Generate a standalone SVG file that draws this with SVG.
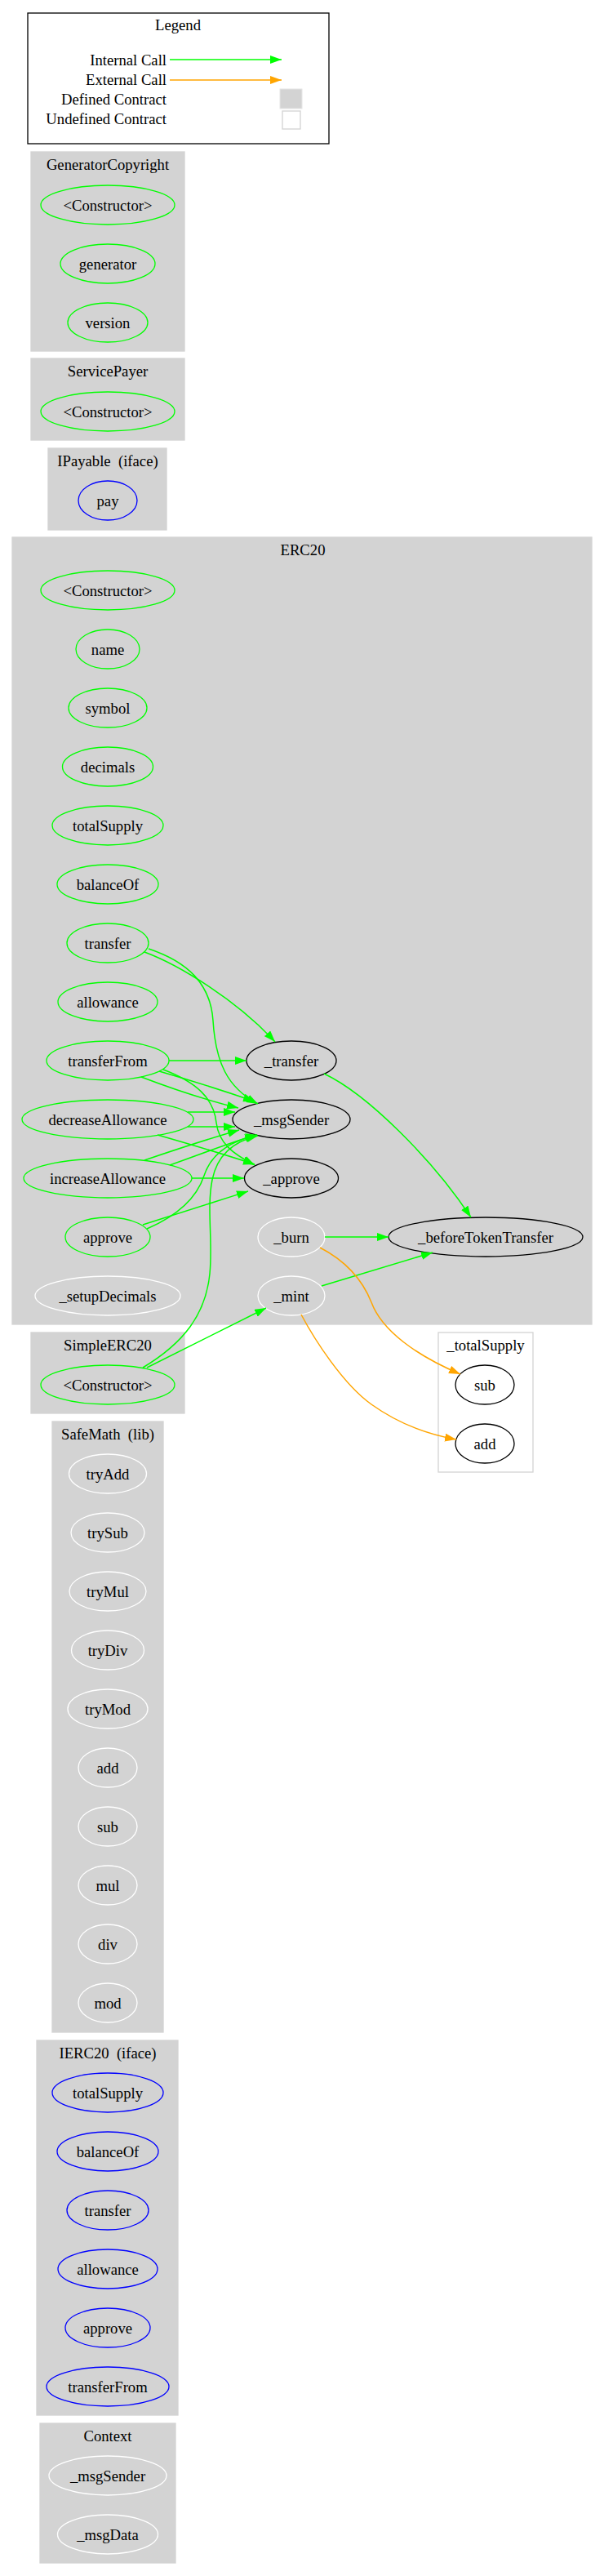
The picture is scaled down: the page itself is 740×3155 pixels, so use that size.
<svg xmlns="http://www.w3.org/2000/svg" width="740" height="3155" viewBox="0 0 740 3155">
<style>
text{font-family:"Liberation Serif","Times New Roman",serif;font-size:18.67px;fill:#000;text-anchor:middle;white-space:pre}
.cl{fill:#d3d3d3;stroke:#d3d3d3;stroke-width:1.3}
.ucl{fill:#fff;stroke:#d3d3d3;stroke-width:1.3}
.g{fill:none;stroke:#00ff00;stroke-width:1.3}
.b{fill:none;stroke:#0000ff;stroke-width:1.3}
.w{fill:none;stroke:#ffffff;stroke-width:1.3}
.k{fill:none;stroke:#000000;stroke-width:1.3}
.eg{fill:none;stroke:#00ff00;stroke-width:1.5}
.eo{fill:none;stroke:#ffa500;stroke-width:1.5}
</style>
<defs>
<marker id="ag" viewBox="0 0 14 10" refX="14" refY="5" markerWidth="14" markerHeight="10" markerUnits="userSpaceOnUse" orient="auto"><path d="M0,0 L14,5 L0,10 z" fill="#00ff00"/></marker>
<marker id="ao" viewBox="0 0 14 10" refX="14" refY="5" markerWidth="14" markerHeight="10" markerUnits="userSpaceOnUse" orient="auto"><path d="M0,0 L14,5 L0,10 z" fill="#ffa500"/></marker>
</defs>
<rect width="740" height="3155" fill="#fff"/>

<g id="legend">
<rect x="34" y="16" width="369" height="160" fill="#fff" stroke="#000" stroke-width="1.3"/>
<text x="218" y="37">Legend</text>
<text x="204" y="80" style="text-anchor:end">Internal Call</text>
<text x="204" y="104" style="text-anchor:end">External Call</text>
<text x="204" y="128" style="text-anchor:end">Defined Contract</text>
<text x="204" y="152" style="text-anchor:end">Undefined Contract</text>
<path class="eg" d="M208,73 L345,73" marker-end="url(#ag)"/>
<path class="eo" d="M208,98 L345,98" marker-end="url(#ao)"/>
<rect x="343" y="109" width="27" height="24" fill="#d3d3d3" stroke="#e6e6e6" stroke-width="1"/>
<rect x="346" y="136" width="22" height="22" fill="#fff" stroke="#d3d3d3" stroke-width="1.3"/>
</g>

<g id="cluster_GeneratorCopyright">
<rect class="cl" x="38" y="186" width="188" height="244"/>
<text x="132" y="208">GeneratorCopyright</text>
<g id="GeneratorCopyright_Constructor"><ellipse class="g" cx="132" cy="251" rx="82" ry="24"/><text x="132" y="257.5">&lt;Constructor&gt;</text></g>
<g id="GeneratorCopyright_generator"><ellipse class="g" cx="132" cy="323" rx="58" ry="24"/><text x="132" y="329.5">generator</text></g>
<g id="GeneratorCopyright_version"><ellipse class="g" cx="132" cy="395" rx="49" ry="24"/><text x="132" y="401.5">version</text></g>
</g>

<g id="cluster_ServicePayer">
<rect class="cl" x="38" y="439" width="188" height="100"/>
<text x="132" y="461">ServicePayer</text>
<g id="ServicePayer_Constructor"><ellipse class="g" cx="132" cy="504" rx="82" ry="24"/><text x="132" y="510.5">&lt;Constructor&gt;</text></g>
</g>

<g id="cluster_IPayable">
<rect class="cl" x="59" y="549" width="145" height="100"/>
<text x="132" y="571" xml:space="preserve">IPayable  (iface)</text>
<g id="IPayable_pay"><ellipse class="b" cx="132" cy="613" rx="36" ry="24"/><text x="132" y="619.5">pay</text></g>
</g>

<g id="cluster_ERC20">
<rect class="cl" x="15" y="658" width="710" height="964"/>
<text x="371" y="680">ERC20</text>
<g id="ERC20_Constructor"><ellipse class="g" cx="132" cy="723" rx="82" ry="24"/><text x="132" y="729.5">&lt;Constructor&gt;</text></g>
<g id="ERC20_name"><ellipse class="g" cx="132" cy="795" rx="39" ry="24"/><text x="132" y="801.5">name</text></g>
<g id="ERC20_symbol"><ellipse class="g" cx="132" cy="867" rx="48" ry="24"/><text x="132" y="873.5">symbol</text></g>
<g id="ERC20_decimals"><ellipse class="g" cx="132" cy="939" rx="55.5" ry="24"/><text x="132" y="945.5">decimals</text></g>
<g id="ERC20_totalSupply"><ellipse class="g" cx="132" cy="1011" rx="68" ry="24"/><text x="132" y="1017.5">totalSupply</text></g>
<g id="ERC20_balanceOf"><ellipse class="g" cx="132" cy="1083" rx="62" ry="24"/><text x="132" y="1089.5">balanceOf</text></g>
<g id="ERC20_transfer"><ellipse class="g" cx="132" cy="1155" rx="50" ry="24"/><text x="132" y="1161.5">transfer</text></g>
<g id="ERC20_allowance"><ellipse class="g" cx="132" cy="1227" rx="61" ry="24"/><text x="132" y="1233.5">allowance</text></g>
<g id="ERC20_transferFrom"><ellipse class="g" cx="132" cy="1299" rx="75" ry="24"/><text x="132" y="1305.5">transferFrom</text></g>
<g id="ERC20_decreaseAllowance"><ellipse class="g" cx="132" cy="1371" rx="105" ry="24"/><text x="132" y="1377.5">decreaseAllowance</text></g>
<g id="ERC20_increaseAllowance"><ellipse class="g" cx="132" cy="1443" rx="103" ry="24"/><text x="132" y="1449.5">increaseAllowance</text></g>
<g id="ERC20_approve"><ellipse class="g" cx="132" cy="1515" rx="52" ry="24"/><text x="132" y="1521.5">approve</text></g>
<g id="ERC20__setupDecimals"><ellipse class="w" cx="132" cy="1587" rx="89" ry="24"/><text x="132" y="1593.5">_setupDecimals</text></g>
<g id="ERC20__transfer"><ellipse class="k" cx="357" cy="1299" rx="55" ry="24"/><text x="357" y="1305.5">_transfer</text></g>
<g id="ERC20__msgSender"><ellipse class="k" cx="357" cy="1371" rx="72" ry="24"/><text x="357" y="1377.5">_msgSender</text></g>
<g id="ERC20__approve"><ellipse class="k" cx="357" cy="1443" rx="57.5" ry="24"/><text x="357" y="1449.5">_approve</text></g>
<g id="ERC20__burn"><ellipse class="w" cx="357" cy="1515" rx="41" ry="24"/><text x="357" y="1521.5">_burn</text></g>
<g id="ERC20__mint"><ellipse class="w" cx="357" cy="1587" rx="41" ry="24"/><text x="357" y="1593.5">_mint</text></g>
<g id="ERC20__beforeTokenTransfer"><ellipse class="k" cx="595" cy="1515" rx="119" ry="24"/><text x="595" y="1521.5">_beforeTokenTransfer</text></g>
</g>

<g id="cluster_SimpleERC20">
<rect class="cl" x="38" y="1632" width="188" height="99"/>
<text x="132" y="1654">SimpleERC20</text>
<g id="SimpleERC20_Constructor"><ellipse class="g" cx="132" cy="1696" rx="82" ry="24"/><text x="132" y="1702.5">&lt;Constructor&gt;</text></g>
</g>

<g id="cluster__totalSupply">
<rect class="ucl" x="537" y="1632" width="116" height="171"/>
<text x="595" y="1654">_totalSupply</text>
<g id="_totalSupply_sub"><ellipse class="k" cx="594" cy="1696" rx="36" ry="24"/><text x="594" y="1702.5">sub</text></g>
<g id="_totalSupply_add"><ellipse class="k" cx="594" cy="1768" rx="36" ry="24"/><text x="594" y="1774.5">add</text></g>
</g>

<g id="cluster_SafeMath">
<rect class="cl" x="64" y="1741" width="136" height="748"/>
<text x="132" y="1763" xml:space="preserve">SafeMath  (lib)</text>
<g id="SafeMath_tryAdd"><ellipse class="w" cx="132" cy="1805" rx="47.5" ry="24"/><text x="132" y="1811.5">tryAdd</text></g>
<g id="SafeMath_trySub"><ellipse class="w" cx="132" cy="1877" rx="45" ry="24"/><text x="132" y="1883.5">trySub</text></g>
<g id="SafeMath_tryMul"><ellipse class="w" cx="132" cy="1949" rx="47" ry="24"/><text x="132" y="1955.5">tryMul</text></g>
<g id="SafeMath_tryDiv"><ellipse class="w" cx="132" cy="2021" rx="44.5" ry="24"/><text x="132" y="2027.5">tryDiv</text></g>
<g id="SafeMath_tryMod"><ellipse class="w" cx="132" cy="2093" rx="49" ry="24"/><text x="132" y="2099.5">tryMod</text></g>
<g id="SafeMath_add"><ellipse class="w" cx="132" cy="2165" rx="36" ry="24"/><text x="132" y="2171.5">add</text></g>
<g id="SafeMath_sub"><ellipse class="w" cx="132" cy="2237" rx="36" ry="24"/><text x="132" y="2243.5">sub</text></g>
<g id="SafeMath_mul"><ellipse class="w" cx="132" cy="2309" rx="36" ry="24"/><text x="132" y="2315.5">mul</text></g>
<g id="SafeMath_div"><ellipse class="w" cx="132" cy="2381" rx="36" ry="24"/><text x="132" y="2387.5">div</text></g>
<g id="SafeMath_mod"><ellipse class="w" cx="132" cy="2453" rx="36" ry="24"/><text x="132" y="2459.5">mod</text></g>
</g>

<g id="cluster_IERC20">
<rect class="cl" x="45" y="2499" width="173" height="459"/>
<text x="132" y="2521" xml:space="preserve">IERC20  (iface)</text>
<g id="IERC20_totalSupply"><ellipse class="b" cx="132" cy="2563" rx="68" ry="24"/><text x="132" y="2569.5">totalSupply</text></g>
<g id="IERC20_balanceOf"><ellipse class="b" cx="132" cy="2635" rx="62" ry="24"/><text x="132" y="2641.5">balanceOf</text></g>
<g id="IERC20_transfer"><ellipse class="b" cx="132" cy="2707" rx="50" ry="24"/><text x="132" y="2713.5">transfer</text></g>
<g id="IERC20_allowance"><ellipse class="b" cx="132" cy="2779" rx="61" ry="24"/><text x="132" y="2785.5">allowance</text></g>
<g id="IERC20_approve"><ellipse class="b" cx="132" cy="2851" rx="52" ry="24"/><text x="132" y="2857.5">approve</text></g>
<g id="IERC20_transferFrom"><ellipse class="b" cx="132" cy="2923" rx="75" ry="24"/><text x="132" y="2929.5">transferFrom</text></g>
</g>

<g id="cluster_Context">
<rect class="cl" x="49" y="2968" width="166" height="171"/>
<text x="132" y="2990">Context</text>
<g id="Context__msgSender"><ellipse class="w" cx="132" cy="3032" rx="72" ry="24"/><text x="132" y="3038.5">_msgSender</text></g>
<g id="Context__msgData"><ellipse class="w" cx="132" cy="3104" rx="61.5" ry="24"/><text x="132" y="3110.5">_msgData</text></g>
</g>

<g id="connectors">
<path class="eg" d="M177,1166 C220,1182 290,1225 337,1276" marker-end="url(#ag)"/>
<path class="eg" d="M182,1162 C230,1178 258,1205 261,1250 C264,1300 278,1332 316,1352" marker-end="url(#ag)"/>
<path class="eg" d="M207,1299 L302,1299" marker-end="url(#ag)"/>
<path class="eg" d="M195,1312 C240,1325 280,1338 312,1349" marker-end="url(#ag)"/>
<path class="eg" d="M173,1319 C215,1335 255,1348 292,1357" marker-end="url(#ag)"/>
<path class="eg" d="M200,1310 C240,1325 262,1345 265,1375 C268,1400 285,1413 312,1427" marker-end="url(#ag)"/>
<path class="eg" d="M230,1362 L288,1362" marker-end="url(#ag)"/>
<path class="eg" d="M230,1380 L288,1380" marker-end="url(#ag)"/>
<path class="eg" d="M193,1390 C235,1402 275,1414 312,1426" marker-end="url(#ag)"/>
<path class="eg" d="M177,1421 C215,1408 255,1395 293,1384" marker-end="url(#ag)"/>
<path class="eg" d="M208,1427 C245,1414 280,1400 314,1390" marker-end="url(#ag)"/>
<path class="eg" d="M235,1443 L299,1443" marker-end="url(#ag)"/>
<path class="eg" d="M175,1500 C215,1487 260,1473 304,1459" marker-end="url(#ag)"/>
<path class="eg" d="M180,1505 C215,1490 240,1470 250,1440 C258,1415 280,1398 315,1390" marker-end="url(#ag)"/>
<path class="eg" d="M175,1675 C225,1645 252,1610 257,1560 C261,1520 253,1480 260,1445 C266,1415 285,1398 316,1391" marker-end="url(#ag)"/>
<path class="eg" d="M180,1675 L326,1602" marker-end="url(#ag)"/>
<path class="eg" d="M397,1315 C450,1340 530,1420 577,1491" marker-end="url(#ag)"/>
<path class="eg" d="M398,1515 L476,1515" marker-end="url(#ag)"/>
<path class="eg" d="M394,1575 L530,1534" marker-end="url(#ag)"/>
<path class="eo" d="M392,1528 C425,1545 445,1570 455,1595 C468,1630 510,1660 564,1683" marker-end="url(#ao)"/>
<path class="eo" d="M369,1610 C385,1640 420,1695 455,1720 C490,1745 525,1757 559,1763" marker-end="url(#ao)"/>
</g>
</svg>
